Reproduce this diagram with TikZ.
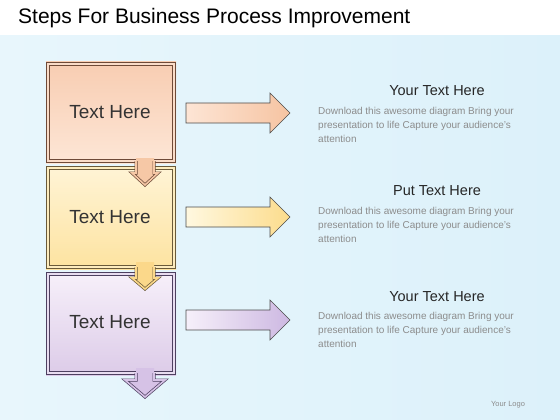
\documentclass[tikz,border=0pt]{standalone}
\usepackage{fontspec}
\setmainfont{Liberation Sans}
\definecolor{bgblue}{HTML}{DCF1FA}
\definecolor{bgleft}{HTML}{E8F6FC}
\definecolor{bgmid}{HTML}{FCFEFF}
\definecolor{brA}{HTML}{6E4A38}
\definecolor{brB}{HTML}{6A5A3A}
\definecolor{brC}{HTML}{4D4060}
\definecolor{aTop}{RGB}{248,205,178}
\definecolor{aBot}{RGB}{253,230,214}
\definecolor{bTop}{RGB}{255,244,214}
\definecolor{bBot}{RGB}{253,227,160}
\definecolor{cTop}{RGB}{247,240,250}
\definecolor{cBot}{RGB}{220,203,232}
\definecolor{aDbl}{RGB}{250,220,200}
\definecolor{bDbl}{RGB}{253,236,190}
\definecolor{cDbl}{RGB}{232,220,240}
\definecolor{aArr}{RGB}{246,200,166}
\definecolor{bArr}{RGB}{251,216,138}
\definecolor{cArr}{RGB}{214,194,230}
\definecolor{aL}{RGB}{253,229,213}
\definecolor{aR}{RGB}{246,196,162}
\definecolor{bL}{RGB}{255,248,224}
\definecolor{bR}{RGB}{252,220,140}
\definecolor{cL}{RGB}{246,240,250}
\definecolor{cR}{RGB}{205,184,226}
\begin{document}
\begin{tikzpicture}[x=1pt,y=-1pt,
  txt/.style={font=\fontsize{19}{22}\selectfont, text=black!80},
  head/.style={font=\fontsize{14.5}{17}\selectfont, text=black!85},
  body/.style={font=\fontsize{10}{14}\selectfont, text=black!45, align=left, anchor=north west, inner sep=0pt},
  rarrow/.style={draw=black!70, line width=0.6pt}]
\useasboundingbox (0,0) rectangle (560,420);
\fill[white] (0,0) rectangle (560,36);
\shade[left color=bgleft, middle color=bgmid, right color=bgblue] (0,36) rectangle (560,420);
\node[anchor=base west, inner sep=0pt, font=\fontsize{21}{24}\selectfont] (title) at (18,24) {Steps For Business Process Improvement};
% boxes
\shade[top color=aTop, bottom color=aBot] (46,62) rectangle (176,163);
\shade[top color=bTop, bottom color=bBot] (46,166) rectangle (176,269);
\shade[top color=cTop, bottom color=cBot] (46,272) rectangle (176,375);
\draw[draw=brA, line width=0.7pt, double=aDbl, double distance=2pt] (48,64) rectangle (174,161);
\draw[draw=brB, line width=0.7pt, double=bDbl, double distance=2pt] (48,168) rectangle (174,267);
\draw[draw=brC, line width=0.7pt, double=cDbl, double distance=2pt] (48,274) rectangle (174,373);
% down arrows
\fill[aArr] (136,158) -- (136,173) -- (132,173) -- (145,185) -- (158,173) -- (154,173) -- (154,158) -- cycle;
\draw[draw=brA, line width=0.7pt, double=aArr, double distance=1.6pt] (136,161) -- (136,173) -- (132,173) -- (145,185) -- (158,173) -- (154,173) -- (154,161);
\fill[bArr] (136,262) -- (136,278) -- (132,278) -- (145,289) -- (158,278) -- (154,278) -- (154,262) -- cycle;
\draw[draw=brB, line width=0.7pt, double=bArr, double distance=1.6pt] (136,267) -- (136,278) -- (132,278) -- (145,289) -- (158,278) -- (154,278) -- (154,267);
\fill[cArr] (136,368) -- (136,380) -- (125,380) -- (145,397) -- (165,380) -- (154,380) -- (154,368) -- cycle;
\draw[draw=brC, line width=0.7pt, double=cArr, double distance=1.6pt] (136,373) -- (136,380) -- (125,380) -- (145,397) -- (165,380) -- (154,380) -- (154,373);
\node[txt] (t1) at (110,112) {Text Here};
\node[txt] (t2) at (110,217) {Text Here};
\node[txt] (t3) at (110,322) {Text Here};
% right arrows
\foreach \dy/\lc/\rc in {0/aL/aR, 104/bL/bR, 207/cL/cR}{
  \shade[rarrow, left color=\lc, right color=\rc] (186,103+\dy) -- (270,103+\dy) -- (270,93+\dy) -- (290,113+\dy) -- (270,133+\dy) -- (270,123+\dy) -- (186,123+\dy) -- cycle;
}
% right texts
\node[head] (h1) at (437,91) {Your Text Here};
\node[head] (h2) at (437,191) {Put Text Here};
\node[head] (h3) at (437,297) {Your Text Here};
\node[body] (b1) at (318,107) {Download this awesome diagram Bring your\\presentation to life Capture your audience's\\attention};
\node[body] (b2) at (318,207) {Download this awesome diagram Bring your\\presentation to life Capture your audience's\\attention};
\node[body] (b3) at (318,312) {Download this awesome diagram Bring your\\presentation to life Capture your audience's\\attention};
\node[font=\fontsize{7.5}{8}\selectfont, text=black!45] (logo) at (508,405) {Your Logo};
\end{tikzpicture}
\end{document}
